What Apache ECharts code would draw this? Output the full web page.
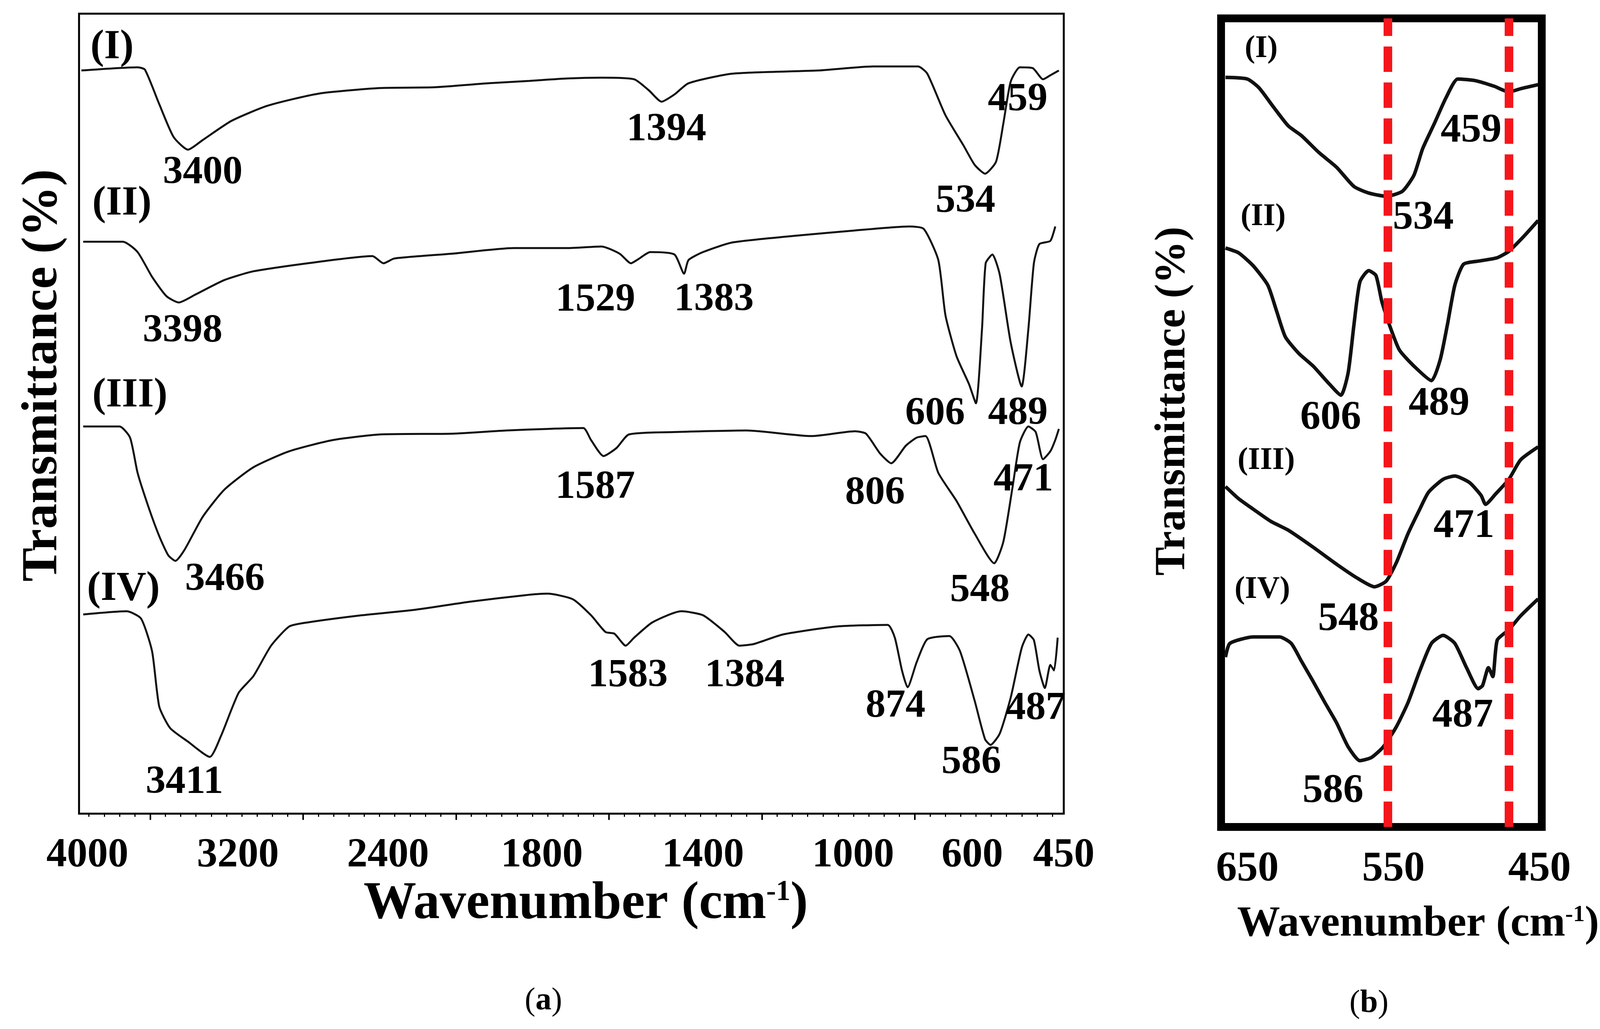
<!DOCTYPE html>
<html>
<head>
<meta charset="utf-8">
<title>FTIR spectra</title>
<script src="https://cdn.jsdelivr.net/npm/echarts@6/dist/echarts.min.js"></script>
<style>
  html, body { margin: 0; padding: 0; background: #fff; overflow: hidden; }
  #chart { width: 100vw; height: 100vh; }
</style>
</head>
<body>
<div id="chart"></div>
<script>
// ---- panel (a): the wavenumber axis of the original is piecewise, tick label -> position on the axis
var scaleTicksA = [4000, 3200, 2400, 1800, 1400, 1000, 600, 450];
var scalePosA = [22, 420, 817, 1224, 1650, 2047, 2362, 2604];

// spectra of panel (a), [wavenumber, transmittance a.u.]
var curveA1 = [[4032,92.9],[3733,93.3],[3694,93.0],[3618,88.7],[3542,84.6],[3465,83.0],[3387,84.2],[3234,86.6],[3041,88.5],[2771,90.0],[2444,90.7],[2220,90.8],[2009,91.3],[1849,91.6],[1737,91.9],[1652,92.0],[1571,91.8],[1534,90.4],[1503,89.0],[1471,89.9],[1436,91.3],[1322,92.5],[1092,92.9],[933,93.4],[782,93.4],[751,92.5],[690,87.3],[629,83.5],[596,81.1],[579,80.0],[561,81.5],[549,86.3],[537,91.5],[522,93.3],[501,93.2],[484,91.8],[472,92.3],[458,92.9]];
var curveA2 = [[4022,71.5],[3811,71.5],[3733,70.2],[3656,67.1],[3580,64.7],[3514,63.9],[3425,64.9],[3272,66.7],[3117,67.8],[2829,68.8],[2483,69.7],[2424,68.8],[2375,69.4],[2149,70.0],[1911,70.7],[1737,70.7],[1652,70.9],[1607,70.0],[1579,68.8],[1561,69.3],[1531,70.2],[1471,69.9],[1447,67.5],[1436,69.2],[1400,70.2],[1322,71.4],[1140,72.3],[994,72.9],[812,73.4],[763,73.1],[714,69.2],[690,62.3],[653,57.2],[611,53.7],[594,51.3],[584,60.6],[578,68.8],[567,69.9],[555,67.4],[537,58.9],[519,53.4],[508,60.6],[499,68.8],[490,71.2],[472,71.6],[464,73.4]];
var curveA3 = [[4022,48.4],[3829,48.4],[3773,47.0],[3733,42.6],[3676,38.4],[3618,34.7],[3570,32.3],[3532,31.6],[3483,33.0],[3387,37.1],[3272,40.5],[3117,43.3],[2926,45.3],[2694,46.7],[2444,47.4],[2149,47.5],[1939,47.9],[1784,48.1],[1697,48.2],[1678,46.7],[1647,44.7],[1615,45.7],[1584,47.4],[1471,47.7],[1284,47.9],[1111,47.2],[994,47.8],[957,47.5],[909,45.0],[872,43.8],[823,46.0],[787,47.0],[757,47.2],[714,42.6],[653,39.1],[596,35.0],[564,31.3],[549,34.0],[534,40.8],[522,46.4],[508,48.4],[496,47.7],[484,44.3],[472,45.3],[464,46.7],[458,48.1]];
var curveA4 = [[4022,24.9],[3791,25.3],[3715,24.4],[3656,20.3],[3618,13.4],[3560,10.7],[3465,9.0],[3349,7.1],[3290,9.7],[3196,15.1],[3117,17.2],[3023,21.0],[2926,23.4],[2829,23.9],[2539,24.8],[2291,25.5],[2079,26.5],[1868,27.3],[1786,27.5],[1723,26.8],[1678,24.8],[1642,22.7],[1620,22.5],[1592,21.0],[1571,22.0],[1526,23.9],[1454,25.3],[1400,24.8],[1342,22.7],[1303,21.0],[1265,21.2],[1187,22.4],[1043,23.4],[884,23.6],[860,22.0],[836,17.9],[817,15.8],[787,18.9],[751,21.8],[677,22.2],[641,20.3],[596,14.1],[579,9.3],[570,8.6],[555,10.0],[537,14.5],[519,20.7],[508,22.4],[499,21.7],[490,17.9],[481,15.7],[472,18.6],[466,17.9],[460,22.0]];

// annotated bands: [wavenumber of the point on the curve, printed text]
var peaksA1 = [[3465,'3400'],[1503,'1394'],[579,'534'],[484,'459']];
var peaksA2 = [[3514,'3398'],[1579,'1529'],[1447,'1383'],[594,'606'],[519,'489']];
var peaksA3 = [[3532,'3466'],[1647,'1587'],[872,'806'],[564,'548'],[484,'471']];
var peaksA4 = [[3349,'3411'],[1592,'1583'],[1303,'1384'],[817,'874'],[570,'586'],[481,'487']];

// ---- panel (b), zoom of 650-450 cm-1
var ticksB = [650, 550, 450];
var guideLinesB = [554, 471];
var curveB1 = [[665,92.7],[650,92.5],[642,91.4],[632,89.0],[622,86.7],[613,85.5],[601,83.4],[589,81.6],[577,79.2],[567,78.4],[555,78.0],[544,78.6],[536,80.6],[530,83.9],[522,87.0],[514,90.2],[506,92.5],[494,92.3],[481,91.6],[471,90.9],[463,91.3],[451,91.8]];
var curveB2 = [[665,71.6],[656,71.0],[646,69.4],[636,67.0],[630,63.8],[624,60.6],[615,58.6],[605,57.0],[595,55.0],[586,53.4],[581,56.2],[577,62.2],[573,67.4],[567,68.8],[562,68.2],[558,65.0],[553,62.2],[546,59.0],[536,57.0],[524,55.2],[518,57.8],[513,62.2],[508,67.0],[502,69.6],[491,70.0],[479,70.4],[471,71.2],[461,73.0],[451,75.0]];
var curveB3 = [[665,42.1],[656,40.6],[646,39.3],[634,37.8],[622,36.7],[605,34.6],[589,32.5],[575,30.8],[563,29.7],[555,30.4],[548,32.7],[540,36.3],[532,39.3],[526,41.4],[516,43.0],[508,43.4],[498,42.6],[490,41.0],[487,39.9],[480,41.2],[471,43.0],[463,45.4],[451,47.0]];
var curveB4 = [[665,21.0],[662,22.7],[646,23.5],[628,23.5],[620,22.7],[613,20.5],[605,18.0],[597,15.4],[589,12.9],[581,9.9],[573,8.2],[565,8.6],[557,9.9],[548,12.4],[540,15.4],[532,19.3],[524,22.7],[516,23.7],[508,22.7],[500,19.7],[492,17.1],[489,17.5],[485,19.7],[482,18.6],[479,23.1],[471,24.4],[463,26.1],[451,28.2]];

var peaksB1 = [[555,'534'],[471,'459']];
var peaksB2 = [[586,'606'],[524,'489']];
var peaksB3 = [[563,'548'],[487,'471']];
var peaksB4 = [[573,'586'],[492,'487']];

var sampleNames = ['(I)', '(II)', '(III)', '(IV)'];

// label placement (pixels from the point on the curve)
var peakOffA = [
    [[39,60],[13,72],[-52,71],[-67,53]],
    [[10,74],[-94,95],[79,67],[-108,28],[-10,70]],
    [[131,49],[-22,81],[-43,77],[-38,70],[-52,53]],
    [[-67,66],[6,78],[14,78],[-32,49],[-51,46],[-24,53]]
];
var nameOffA = [[24,-58],[24,-97],[24,-78],[10,-64]];
var peakOffB = [
    [[98,56],[-100,100]],
    [[-27,59],[20,60]],
    [[-69,84],[-57,57]],
    [[-71,79],[-41,70]]
];
var nameOffB = [[51,-73],[40,-79],[32,-66],[24,-172]];

var FONT = 'Liberation Serif';

var el = document.getElementById('chart');
// layout was measured on a 4231 px wide figure, the page may be narrower
var sx = (el.clientWidth || 4231) / 4231;
function X(v) { return v * sx; }

function toAxisA(wn) {
    var t = scaleTicksA, p = scalePosA;
    var i = 0;
    while (i < t.length - 2 && wn < t[i + 1]) i++;
    return p[i] + (t[i] - wn) * (p[i + 1] - p[i]) / (t[i] - t[i + 1]);
}

// tick marks of panel (a) (minor + major), not tied to round wavenumbers in the source
var minorTicksA = [];
for (var v = 26.2; v < 2604; v += 40.44) minorTicksA.push(v);
var majorTicksA = [];
for (var m = 188; m < 2604; m += 404.4) majorTicksA.push(m);

function marks(curve, peaks, offs, name, nameOff, mapX, numStyle, nameStyle) {
    var data = peaks.map(function (p, i) {
        var pt = curve.find(function (d) { return d[0] === p[0]; });
        return {
            coord: [mapX(pt[0]), pt[1]],
            label: Object.assign({ formatter: p[1], offset: [X(offs[i][0]), offs[i][1]] }, numStyle)
        };
    });
    data.push({
        coord: [mapX(curve[0][0]), curve[0][1]],
        label: Object.assign({ formatter: name, offset: [X(nameOff[0]), nameOff[1]], align: 'left' }, nameStyle)
    });
    return {
        symbol: 'circle',
        symbolSize: 1,
        silent: true,
        itemStyle: { color: 'rgba(0,0,0,0)' },
        label: { show: true, position: 'inside', color: '#000', fontFamily: FONT },
        data: data
    };
}

var idA = function (w) { return toAxisA(w); };
var idB = function (w) { return w; };

var numA = { fontSize: 102, fontWeight: 'bold' };
var nameA = { fontSize: 105, fontWeight: 'bold' };
var numB = { fontSize: 104, fontWeight: 'bold' };
var nameB = { fontSize: 80, fontWeight: 'bold' };

var curvesA = [curveA1, curveA2, curveA3, curveA4];
var peaksA = [peaksA1, peaksA2, peaksA3, peaksA4];
var curvesB = [curveB1, curveB2, curveB3, curveB4];
var peaksB = [peaksB1, peaksB2, peaksB3, peaksB4];

var series = [];
curvesA.forEach(function (c, k) {
    series.push({
        type: 'line',
        xAxisIndex: 0,
        yAxisIndex: 0,
        showSymbol: false,
        symbol: 'none',
        smooth: 0.2,
        data: c.map(function (d) { return [toAxisA(d[0]), d[1]]; }),
        lineStyle: { color: '#111', width: 5 },
        markPoint: marks(c, peaksA[k], peakOffA[k], sampleNames[k], nameOffA[k], idA, numA, nameA)
    });
});
curvesB.forEach(function (c, k) {
    var s = {
        type: 'line',
        xAxisIndex: 2,
        yAxisIndex: 1,
        showSymbol: false,
        symbol: 'none',
        smooth: 0.2,
        data: c,
        lineStyle: { color: '#111', width: 9 },
        markPoint: marks(c, peaksB[k], peakOffB[k], sampleNames[k], nameOffB[k], idB, numB, nameB)
    };
    if (k === 0) {
        s.markLine = {
            silent: true,
            z: 10,
            symbol: ['none', 'none'],
            label: { show: false },
            lineStyle: { color: '#f5161b', width: 22, type: [65, 27] },
            data: guideLinesB.map(function (x) { return { xAxis: x }; })
        };
    }
    series.push(s);
});

function supRich(size) {
    return { sup: { fontSize: size, fontWeight: 'bold', fontFamily: FONT, color: '#000', verticalAlign: 'top' } };
}

var panelTitleStyle = {
    fontSize: 82, fontWeight: 'normal', fontFamily: FONT, color: '#000',
    rich: { b: { fontSize: 82, fontWeight: 'bold', fontFamily: FONT, color: '#000' } }
};

var option = {
    backgroundColor: '#fff',
    animation: false,
    title: [
        { text: '({b|a})', left: X(1437), bottom: 30, textAlign: 'center', padding: 0, textStyle: panelTitleStyle },
        { text: '({b|b})', left: X(3620), bottom: 24, textAlign: 'center', padding: 0, textStyle: panelTitleStyle }
    ],
    grid: [
        { left: X(209), top: 35, width: X(2604), height: 2047, show: true, borderColor: '#000', borderWidth: 5, backgroundColor: 'transparent', containLabel: false, outerBoundsMode: 'none' },
        { left: X(3229), top: 47, width: X(848), height: 2069, show: true, borderColor: '#000', borderWidth: 20, backgroundColor: 'transparent', containLabel: false, outerBoundsMode: 'none' }
    ],
    xAxis: [
        {
            gridIndex: 0, type: 'value', min: 0, max: 2604,
            name: 'Wavenumber (cm{sup|-1})', nameLocation: 'middle', nameGap: 160,
            nameTextStyle: { fontSize: 135, fontWeight: 'bold', fontFamily: FONT, color: '#000', padding: [0, 0, 0, X(76)], rich: supRich(74) },
            axisLine: { show: false },
            splitLine: { show: false },
            axisTick: { show: true, length: 8, lineStyle: { color: '#000', width: 3 }, customValues: minorTicksA },
            axisLabel: {
                show: true, margin: 55, fontSize: 105, fontWeight: 'bold', fontFamily: FONT, color: '#000',
                customValues: scalePosA,
                formatter: function (val) {
                    var i = scalePosA.indexOf(val);
                    return i >= 0 ? String(scaleTicksA[i]) : '';
                }
            }
        },
        {
            gridIndex: 0, type: 'value', min: 0, max: 2604, position: 'bottom',
            axisLine: { show: false },
            splitLine: { show: false },
            axisLabel: { show: false },
            axisTick: { show: true, length: 16, lineStyle: { color: '#000', width: 4 }, customValues: majorTicksA }
        },
        {
            gridIndex: 1, type: 'value', inverse: true, min: 448.5, max: 668,
            name: 'Wavenumber (cm{sup|-1})', nameLocation: 'middle', nameGap: 195,
            nameTextStyle: { fontSize: 110, fontWeight: 'bold', fontFamily: FONT, color: '#000', padding: [0, 0, 0, X(194)], rich: supRich(60) },
            axisLine: { show: false },
            splitLine: { show: false },
            axisTick: { show: false },
            axisLabel: { show: true, margin: 56, fontSize: 107, fontWeight: 'bold', fontFamily: FONT, color: '#000', customValues: ticksB }
        }
    ],
    yAxis: [
        {
            gridIndex: 0, type: 'value', min: 0, max: 100,
            name: 'Transmittance (%)', nameLocation: 'middle', nameGap: X(28),
            nameTextStyle: { fontSize: 130, fontWeight: 'bold', fontFamily: FONT, color: '#000', padding: [0, 0, 0, 196] },
            axisLine: { show: false }, axisTick: { show: false }, axisLabel: { show: false }, splitLine: { show: false }
        },
        {
            gridIndex: 1, type: 'value', min: 0, max: 100,
            name: 'Transmittance (%)', nameLocation: 'middle', nameGap: X(70),
            nameTextStyle: { fontSize: 110, fontWeight: 'bold', fontFamily: FONT, color: '#000', padding: [0, 0, 0, 110] },
            axisLine: { show: false }, axisTick: { show: false }, axisLabel: { show: false }, splitLine: { show: false }
        }
    ],
    series: series
};

var chart = echarts.init(el, null, { renderer: 'canvas' });
chart.setOption(option);
</script>
</body>
</html>
